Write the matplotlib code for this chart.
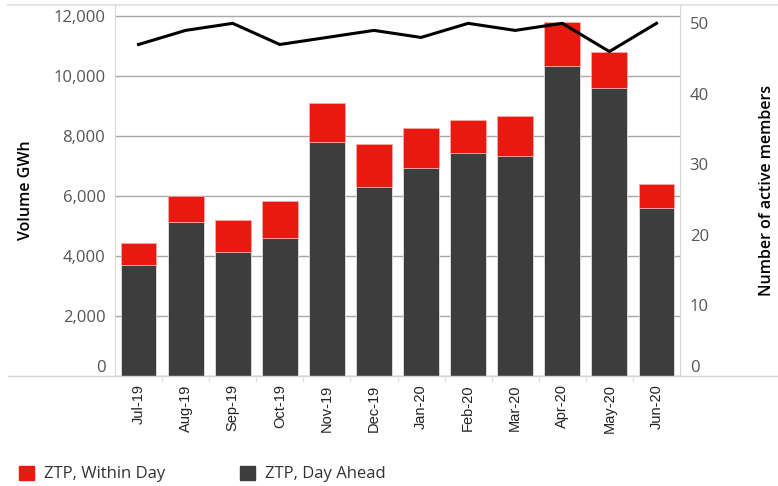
import numpy as np
import matplotlib.pyplot as plt
from matplotlib.patches import Patch

months = ['Jul-19', 'Aug-19', 'Sep-19', 'Oct-19', 'Nov-19', 'Dec-19',
          'Jan-20', 'Feb-20', 'Mar-20', 'Apr-20', 'May-20', 'Jun-20']
day_ahead = [3700, 5150, 4150, 4600, 7800, 6300, 6950, 7450, 7350, 10350, 9600, 5600]
total = [4450, 6000, 5200, 5850, 9100, 7750, 8270, 8550, 8680, 11800, 10800, 6400]
within_day = [t - d for t, d in zip(total, day_ahead)]
members = [47, 49, 50, 47, 48, 49, 48, 50, 49, 50, 46, 50]

red = '#e8190f'
dark = '#3d3d3d'
grid_c = '#a8a8a8'
frame_c = '#d6d6d6'
tick_c = '#555555'

plt.rcParams['font.family'] = ['Open Sans', 'DejaVu Sans']

fig = plt.figure(figsize=(7.78, 4.86), dpi=100)
ax = fig.add_axes([115 / 778, 1 - 376 / 486, 565 / 778, 371 / 486])
x = np.arange(len(months))
ax.bar(x, day_ahead, width=0.76, color=dark, edgecolor='#f0f0f0', linewidth=0.5, zorder=2)
ax.bar(x, within_day, bottom=day_ahead, width=0.76, color=red, edgecolor='#f5b0b0',
       linewidth=0.5, zorder=2)

ax.set_xlim(-0.5, len(months) - 0.5)
ax.set_ylim(0, 12367)
ax.set_yticks(np.arange(0, 12001, 2000))
ax.set_yticklabels(['{:,}'.format(v) for v in range(0, 12001, 2000)])
ax.yaxis.grid(True, color=grid_c, linewidth=1, zorder=0)
ax.set_axisbelow(True)
ax.tick_params(axis='y', length=0, labelsize=12, labelcolor=tick_c, pad=7)
ax.set_xticks(x)
ax.set_xticklabels(months, rotation=90, fontsize=10.5, color='#222222',
                   family=['Liberation Sans', 'DejaVu Sans'])
ax.tick_params(axis='x', length=0, pad=6)
for s in ['top', 'right', 'bottom']:
    ax.spines[s].set_visible(False)
ax.spines['left'].set_color(frame_c)
ax.set_ylabel('Volume GWh', fontsize=11.5, color='black', fontweight='semibold', labelpad=14)
ax.get_yticklabels()[0].set_va('bottom')

ax2 = ax.twinx()
ax2.plot(x, members, color='black', linewidth=2.2, zorder=5)
ax2.set_ylim(0, 52.6)
ax2.set_yticks(np.arange(0, 51, 10))
ax2.tick_params(axis='y', length=0, labelsize=12, labelcolor=tick_c, pad=7)
for s in ['top', 'left', 'bottom']:
    ax2.spines[s].set_visible(False)
ax2.spines['right'].set_color(frame_c)
ax2.set_ylabel('Number of active members', fontsize=11.5, color='black', fontweight='semibold',
               labelpad=36)
ax2.get_yticklabels()[0].set_va('bottom')

# frame lines across the figure width (top border and baseline)
fig.add_artist(plt.Line2D([8 / 778, 1], [1 - 376 / 486] * 2, color=frame_c, linewidth=1))
fig.add_artist(plt.Line2D([8 / 778, 1], [1 - 5 / 486] * 2, color='#e4e4e4', linewidth=1.5))
# small separators between category labels
for i in range(1, len(months)):
    xf = (115 + i * 565 / 12) / 778
    fig.add_artist(plt.Line2D([xf, xf], [1 - 376 / 486, 1 - 381 / 486], color='#e0e0e0', linewidth=1))

handles = [Patch(color=red, label='ZTP, Within Day'), Patch(color=dark, label='ZTP, Day Ahead')]
fig.legend(handles=handles, loc='center left', bbox_to_anchor=(0.005, 1 - 474 / 486), ncol=2,
           frameon=False, handlelength=0.9, handleheight=0.9, handletextpad=0.6, columnspacing=4.5,
           fontsize=12, labelcolor='#333333')

fig.savefig('out.png', dpi=100)
